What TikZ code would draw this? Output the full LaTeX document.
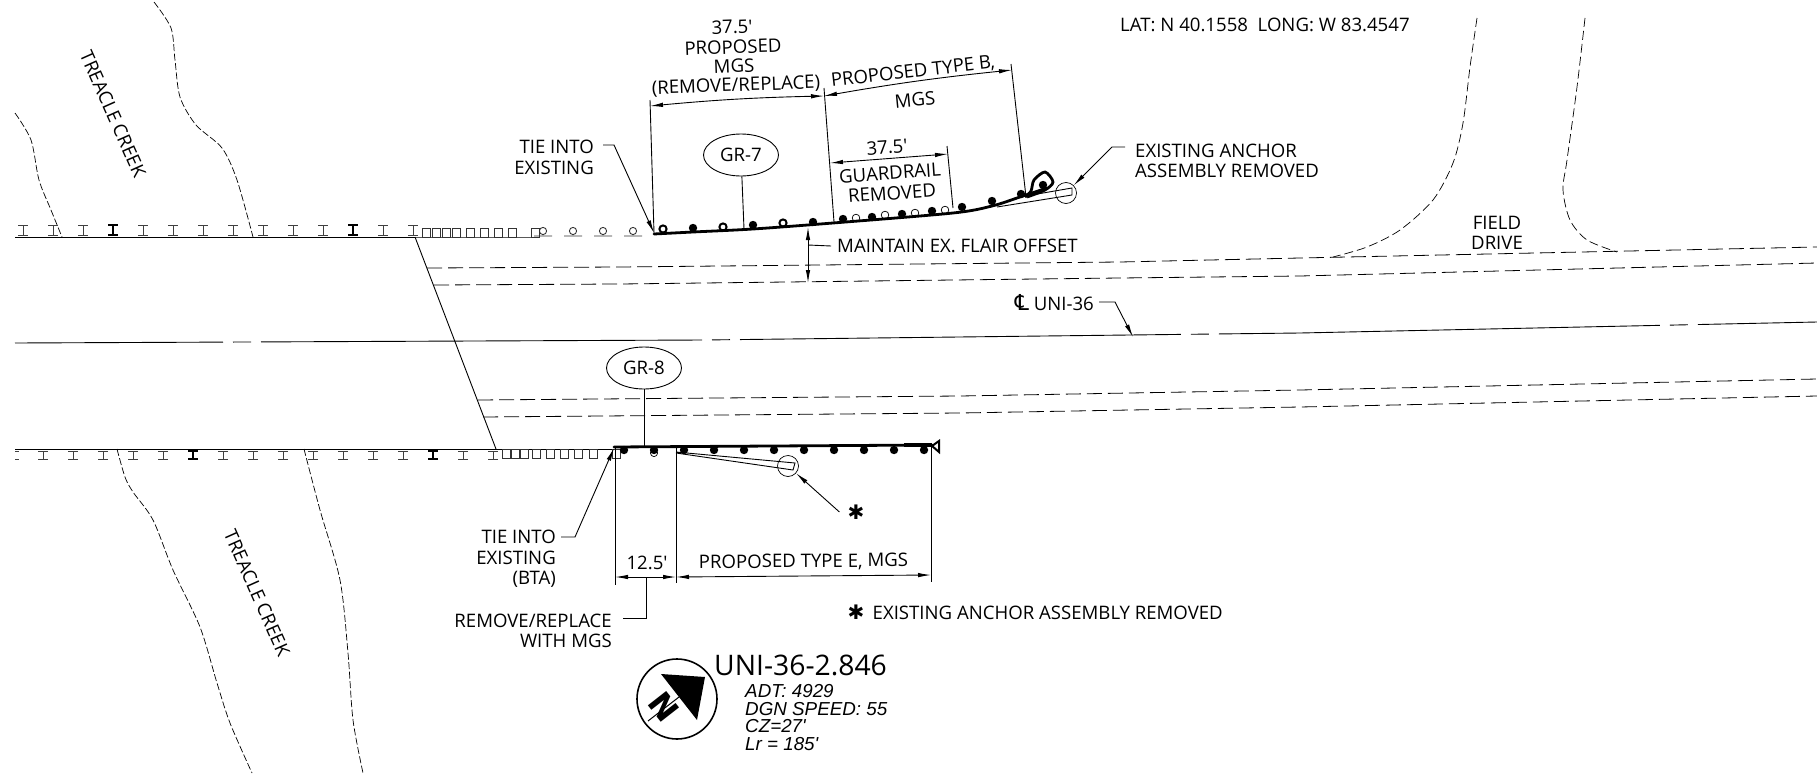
\documentclass[tikz,border=0pt]{standalone}
\usepackage{fontspec}
\newfontfamily\lblfont{Open Sans}
\newfontfamily\symfont{DejaVu Sans}
\newfontfamily\notefont{Liberation Sans}
\usepackage{tikz}
\usetikzlibrary{shapes.geometric, arrows.meta, calc}

\tikzset{
  lbl/.style={font=\lblfont\fontsize{18.6}{20.5}\selectfont, inner sep=0pt, align=center, yshift=-1pt},
  note/.style={font=\notefont\itshape\fontsize{18.8}{17.4}\selectfont, inner sep=0pt, align=left},
  tag/.style={draw, ellipse, line width=0.9pt, minimum width=75pt, minimum height=42pt, inner sep=0pt, font=\lblfont\fontsize{18.6}{20.5}\selectfont},
  thinline/.style={line width=0.9pt},
  railline/.style={line width=2.8pt, line cap=round},
  edgeline/.style={line width=0.8pt, dash pattern=on 15pt off 6pt},
  creekline/.style={line width=0.7pt, dash pattern=on 7pt off 2.5pt},
  driveline/.style={line width=0.7pt, dash pattern=on 9pt off 4pt},
  dimline/.style={line width=0.9pt, {Latex[length=13pt,width=4.5pt]}-{Latex[length=13pt,width=4.5pt]}},
  leader/.style={line width=0.9pt, -{Latex[length=13pt,width=4.5pt]}},
  ibeam/.style={line width=0.9pt},
  anchorring/.style={draw, circle, line width=0.7pt, minimum size=21pt, inner sep=0pt},
}

\begin{document}
\begin{tikzpicture}[x=1pt, y=-1pt]
  \useasboundingbox (0,0) rectangle (1817,784);

  % roadway
  \draw[thinline] (15,237) -- (415,237);
  \draw[thinline, black!65] (415,237) -- (540,237);
  \draw[thinline] (15,449) -- (614,449);
  \draw[thinline] (415,237) -- (496,449);
  \draw[edgeline] (427,268) -- (620,267) -- (1120,262) -- (1300,258) -- (1817,247);
  \draw[edgeline] (434,285) -- (620,284) -- (1120,278) -- (1300,276) -- (1817,263);
  \draw[edgeline] (478,400) -- (960,396) -- (1300,390) -- (1817,379);
  \draw[edgeline] (483,417) -- (960,413) -- (1300,407) -- (1817,396);
  \draw[thinline, dash pattern=on 441pt off 10pt on 18pt off 10pt, dash phase=233pt]
    (15,343) -- (703,340) -- (1300,333) -- (1817,322);

  % creek and drive
  \draw[creekline] plot[smooth] coordinates {(15,113) (31,140) (39,180) (51,210) (62,237)};
  \draw[creekline] plot[smooth] coordinates {(154,2) (171,28) (175,60) (180,97) (196,125) (222,148) (237,180) (253,237)};
  \draw[creekline] plot[smooth] coordinates {(117,449) (125,477) (133,492) (153,520) (173,570) (200,627) (217,683) (230,723) (252,773)};
  \draw[creekline] plot[smooth] coordinates {(304,449) (320,510) (340,580) (348,653) (353,720) (363,773)};
  \draw[driveline] plot[smooth] coordinates {(1477,18) (1470,67) (1463,123) (1453,163) (1433,200) (1400,230) (1367,247) (1333,257)};
  \draw[driveline] plot[smooth] coordinates {(1585,18) (1577,87) (1567,160) (1563,190) (1570,220) (1587,240) (1617,252)};

  % existing posts
  \foreach \x in {23,53,83,143,173,203,233,263,293,323,383,413} {
    \draw[ibeam, black!75] (\x-5,225) -- (\x+5,225) (\x,225) -- (\x,235) (\x-5,235) -- (\x+5,235);
  }
  \foreach \x in {113,353} {
    \draw[ibeam, line width=1.2pt] (\x-5,225) -- (\x+5,225) (\x,225) -- (\x,235) (\x-5,235) -- (\x+5,235);
  }
  \foreach \x in {43,73,103,133,163,223,253,283,313,343,373,403,463,493} {
    \draw[ibeam, black!75] (\x-5,451) -- (\x+5,451) (\x,451) -- (\x,459) (\x-5,459) -- (\x+5,459);
  }
  \draw[ibeam, black!75] (15,451) -- (19,451) (15,459) -- (19,459);
  \foreach \x in {193,433} {
    \draw[ibeam, line width=1.2pt] (\x-5,451) -- (\x+5,451) (\x,451) -- (\x,459) (\x-5,459) -- (\x+5,459);
  }
  \foreach \x in {426,436,446,456,470,484,498,512,535} {
    \draw[ibeam, black!80] (\x-4,228) rectangle (\x+4,237);
  }
  \foreach \x in {506,515,524,536,550,564,578,593,616} {
    \draw[ibeam, black!80] (\x-4,449) rectangle (\x+4,458);
  }
  \foreach \x in {543,573,603,633} {
    \draw[ibeam, black!80] (\x,231) circle (3.6pt) (\x-9,236) -- (\x+9,236);
  }

  % rail GR-7
  \draw[railline] plot[smooth] coordinates {(654,234) (693,232) (753,229) (833,223) (953,213) (992,206) (1020,197) (1047,188)};
  \foreach \x/\y in {693/228,753/225,813/222,843/219,872/217,902/214,932/211,962/207,992/201,1021/194,1043/185} {
    \fill (\x,\y) circle (4.2pt);
  }
  \foreach \x/\y in {663/229,723/227,783/223} {
    \draw[line width=2pt] (\x,\y) circle (3.6pt);
  }
  \foreach \x/\y in {856/218,885/215,915/213,945/210} {
    \draw[line width=0.7pt] (\x,\y) circle (3.8pt);
  }
  \draw[line width=2.8pt] plot[smooth] coordinates {(1025,197) (1031,191) (1034,180) (1045,172) (1053,182) (1045,190) (1027,197)};
  \draw[thinline] (997,207) -- (1072,195) -- (1072,188) -- (1020,197);
  \node[anchorring] (ring7) at (1066,193) {};

  % rail GR-8
  \draw[railline] (614,447) -- (932,445);
  \draw[line width=4.5pt] (904,445) -- (932,445);
  \draw[line width=2pt] (932,446) -- (939,441) -- (939,452) -- cycle;
  \foreach \x in {624,654,684,714,744,774,804,834,864,894,924} {
    \fill (\x,450) circle (4.2pt);
  }
  \draw[line width=0.7pt] (654,453) circle (3.6pt);
  \draw[thinline] (676,452) -- (795,463) -- (793,470) -- (676,453);
  \node[anchorring] (ring8) at (788,466) {};

  % tags
  \node[tag] (gr7) at (741,155) {GR-7};
  \coordinate (gr7foot) at (744,229);
  \draw[thinline] (gr7) -- (gr7foot);
  \node[tag] (gr8) at (644,368) {GR-8};
  \coordinate (gr8foot) at (644,447);
  \draw[line width=1pt] (gr8) -- (gr8foot);

  % dimensions GR-7
  \coordinate (dimA) at (650,106);
  \coordinate (dimB) at (824,96);
  \coordinate (dimC) at (1012,70);
  \coordinate (dimD) at (830,163);
  \coordinate (dimE) at (948,154);
  \draw[dimline] (dimA) to[bend left=2] (dimB);
  \draw[dimline] (dimB) to[bend left=2] (dimC);
  \draw[dimline] (dimD) -- (dimE);
  \draw[thinline] (650,100) -- (654,233);
  \draw[thinline] (824,88) -- (834,222);
  \draw[thinline] (1011,64) -- (1026,197);
  \draw[thinline] (947,146) -- (953,208);
  \node[lbl, rotate=2] (len7) at (732,26) {37.5'};
  \node[lbl, rotate=2] (prop7) at (733,46) {PROPOSED};
  \node[lbl, rotate=2] (mgs7) at (734,65) {MGS};
  \node[lbl, rotate=2] (repl7) at (736,85) {(REMOVE/REPLACE)};
  \node[lbl, rotate=6.5] (typeb) at (913,71) {PROPOSED TYPE B,};
  \node[lbl, rotate=5.5] (mgsb) at (915,99) {MGS};
  \node[lbl, rotate=4] (len7b) at (887,146) {37.5'};
  \node[lbl, rotate=4] (grem) at (890,172) {GUARDRAIL};
  \node[lbl, rotate=4] (rem) at (892,192) {REMOVED};

  % dimensions GR-8
  \coordinate (dimF) at (615,577);
  \coordinate (dimG) at (676,577);
  \coordinate (dimH) at (931,575);
  \draw[dimline] (dimF) -- (dimG);
  \draw[dimline] (dimG) -- (dimH);
  \draw[thinline] (615,447) -- (615,585);
  \draw[thinline] (676,447) -- (676,583);
  \draw[thinline] (931,447) -- (931,582);
  \node[lbl] (len8) at (647,562) {12.5'};
  \node[lbl, rotate=0.5] (type8) at (803.5,561) {PROPOSED TYPE E, MGS};

  % offset
  \node[lbl, anchor=west] (flair) at (837,245) {MAINTAIN EX. FLAIR OFFSET};
  \coordinate (flairup) at (808,227);
  \coordinate (flairdn) at (808,283);
  \draw[dimline] (flairup) -- (flairdn);
  \draw[thinline] (flair.west) ++(-6,0) -- (808,245);

  % callouts
  \node[lbl, anchor=east, align=right] (tie7) at (594,156.5) {TIE INTO\\EXISTING};
  \coordinate (tie7end) at (654,233);
  \draw[leader] (603,145) -- (614,145) -- (tie7end);
  \node[lbl, anchor=east, align=right] (tie8) at (556,558) {TIE INTO\\EXISTING\\(BTA)};
  \coordinate (tie8end) at (614,448);
  \draw[leader] (561,537) -- (575,537) -- (tie8end);
  \node[lbl, anchor=east, align=right] (repl8) at (612,630) {REMOVE/REPLACE\\WITH MGS};
  \draw[thinline] (623,618) -- (646.5,618) -- (646.5,577);
  \node[lbl, anchor=west, align=left] (exanch) at (1135,160) {EXISTING ANCHOR\\ASSEMBLY REMOVED};
  \draw[leader] (1125,147) -- (1112,147) -- (ring7);
  \node[font=\symfont\fontsize{20}{20}\selectfont, inner sep=0pt] (star) at (856,512) {✱};
  \draw[leader] (star.west) ++(-8,0) -- (ring8);
  \node[font=\symfont\fontsize{20}{20}\selectfont, inner sep=0pt] (starkey) at (856,612) {✱};
  \node[lbl, anchor=west] (starnote) at (872.5,612) {EXISTING ANCHOR ASSEMBLY REMOVED};
  \node[lbl, anchor=east] (cl) at (1094,302) {{\symfont\fontsize{22}{22}\selectfont ℄} UNI-36};
  \coordinate (clend) at (1133,337);
  \draw[leader] (1099,302) -- (1115,302) -- (clend);

  % plain labels
  \node[lbl, rotate=-66] (creek1) at (113,113) {TREACLE CREEK};
  \node[lbl, rotate=-66] (creek2) at (257,592) {TREACLE CREEK};
  \node[lbl] (field) at (1497,232) {FIELD\\DRIVE};
  \node[lbl, anchor=west] (latlong) at (1120,24) {LAT: N 40.1558~~LONG: W 83.4547};

  % north arrow and site data
  \node[draw, circle, line width=1.6pt, minimum size=80pt, inner sep=0pt] (north) at (677,699) {};
  \fill (661,674) -- (705,677) -- (697,720) -- cycle;
  \draw[line width=1pt] (648,721) -- (679,697);
  \node[font=\symfont\bfseries\fontsize{32}{32}\selectfont, inner sep=0pt, rotate=-52] (northn) at (664,707) {N};
  \node[lbl, anchor=west, font=\lblfont\fontsize{28.3}{30}\selectfont, yshift=1pt] (site) at (714,665) {UNI-36-2.846};
  \node[note, anchor=north west] (sitedata) at (745,684.5) {ADT: 4929\\DGN SPEED: 55\\CZ=27'\\Lr = 185'};
\end{tikzpicture}
\end{document}
